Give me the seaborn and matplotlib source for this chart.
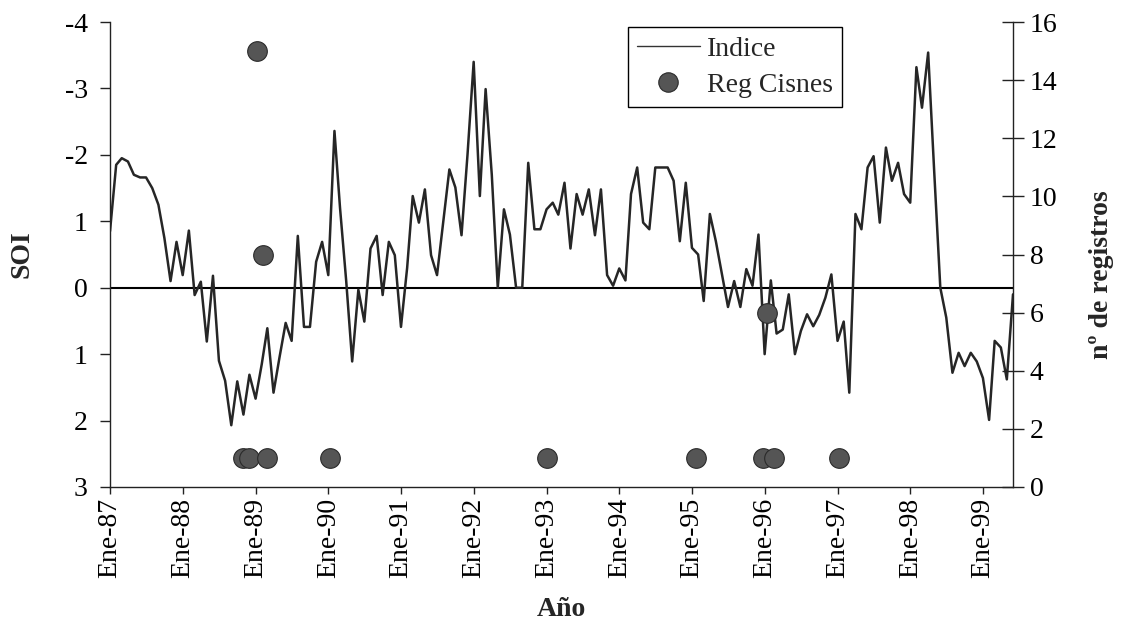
import numpy as np
import pandas as pd
import matplotlib
matplotlib.use("Agg")
import matplotlib.pyplot as plt
from matplotlib.lines import Line2D
import seaborn as sns

# ---------------- data ----------------
fecha_inicio = "1987-01-01"
soi = [
    -0.85, -1.85, -1.95, -1.90, -1.70, -1.66, -1.66, -1.50, -1.25, -0.75, -0.10, -0.69,   # 1987
    -0.19, -0.86, 0.11, -0.09, 0.81, -0.18, 1.10, 1.40, 2.07, 1.41, 1.91, 1.31,           # 1988
    1.67, 1.15, 0.61, 1.58, 1.05, 0.53, 0.80, -0.78, 0.59, 0.59, -0.39, -0.69,             # 1989
    -0.19, -2.36, -1.20, -0.10, 1.11, 0.03, 0.51, -0.59, -0.78, 0.11, -0.69, -0.49,        # 1990
    0.59, -0.30, -1.38, -0.98, -1.48, -0.49, -0.19, -0.99, -1.78, -1.51, -0.79, -2.00,     # 1991
    -3.40, -1.38, -2.99, -1.70, 0.00, -1.18, -0.80, 0.00, 0.00, -1.88, -0.88, -0.88,       # 1992
    -1.18, -1.28, -1.10, -1.58, -0.59, -1.41, -1.10, -1.48, -0.79, -1.48, -0.19, -0.03,    # 1993
    -0.29, -0.11, -1.41, -1.81, -0.98, -0.88, -1.81, -1.81, -1.81, -1.61, -0.70, -1.58,    # 1994
    -0.60, -0.50, 0.20, -1.11, -0.70, -0.20, 0.29, -0.10, 0.29, -0.28, -0.03, -0.80,       # 1995
    1.00, -0.11, 0.69, 0.63, 0.10, 1.00, 0.65, 0.40, 0.58, 0.41, 0.15, -0.20,              # 1996
    0.80, 0.51, 1.58, -1.11, -0.88, -1.81, -1.98, -0.98, -2.11, -1.61, -1.88, -1.41,       # 1997
    -1.28, -3.32, -2.71, -3.54, -1.77, 0.00, 0.45, 1.28, 0.98, 1.18, 0.98, 1.11,           # 1998
    1.36, 1.99, 0.80, 0.90, 1.38, 0.10,                                                    # 1999
]

cisnes_fechas = ["1988-11-01", "1988-12-01", "1989-01-08", "1989-02-08", "1989-03-01",
                 "1990-01-10", "1993-01-01", "1995-01-20", "1995-12-25", "1996-01-12",
                 "1996-02-15", "1997-01-10"]
cisnes_n = [1, 1, 15, 8, 1, 1, 1, 1, 1, 6, 1, 1]

anios = list(range(1987, 2000))
etiquetas_x = [f"Ene-{a % 100:02d}" for a in anios]
soi_ticks = [-4, -3, -2, -1, 0, 1, 2, 3]
soi_ticklabels = ["-4", "-3", "-2", "1", "0", "1", "2", "3"]
reg_ticks = list(range(0, 17, 2))

# ---------------- style ----------------
sns.set_style("ticks")
plt.rcParams["font.family"] = ["Liberation Serif", "DejaVu Serif"]
plt.rcParams["axes.edgecolor"] = "#222222"
plt.rcParams["axes.linewidth"] = 1.0

W, H = 1123, 636
fig = plt.figure(figsize=(W / 100, H / 100), dpi=100)
fig.patch.set_facecolor("white")
L, R, T, B = 110, 1013, 22, 487
ax = fig.add_axes([L / W, 1 - B / H, (R - L) / W, (B - T) / H])

fechas = pd.date_range(fecha_inicio, periods=len(soi), freq="MS")
df = pd.DataFrame({"fecha": fechas, "soi": soi})
sns.lineplot(data=df, x="fecha", y="soi", ax=ax, color="#262626", linewidth=1.8,
             legend=False)
ax.axhline(0, color="black", linewidth=1.5, zorder=1)

ax.set_xlim(fechas[0], fechas[-1])
ax.set_ylim(3, -4)
ax.set_yticks(soi_ticks)
ax.set_yticklabels(soi_ticklabels)
xt = pd.to_datetime([f"{a}-01-01" for a in anios])
ax.set_xticks(xt)
ax.set_xticklabels(etiquetas_x, rotation=90)
ax.tick_params(axis="y", direction="out", length=7, width=1, labelsize=20, pad=9,
               colors="#222222", labelcolor="black")
ax.tick_params(axis="x", direction="out", length=5, width=1, labelsize=20, pad=3,
               colors="#222222", labelcolor="black")
ax.spines["top"].set_visible(False)
ax.spines["right"].set_visible(False)

ax.set_ylabel("SOI", fontsize=20, fontweight="bold", va="center")
ax.yaxis.set_label_coords((22 - L) / (R - L), 0.5)
ax.set_xlabel("Año", fontsize=20, fontweight="bold", va="center")
ax.xaxis.set_label_coords(0.5, (B - 610) / (B - T))

ax2 = ax.twinx()
dfc = pd.DataFrame({"fecha": pd.to_datetime(cisnes_fechas), "n": cisnes_n})
sns.scatterplot(data=dfc, x="fecha", y="n", ax=ax2, s=200, color="#555555",
                edgecolor="#2a2a2a", linewidth=0.8, zorder=3, legend=False)
ax2.set_ylim(0, 16)
ax2.set_yticks(reg_ticks)
ax2.tick_params(axis="y", direction="inout", length=16, width=1, labelsize=20, pad=4,
                colors="#222222", labelcolor="black")
for s in ["top", "left", "bottom"]:
    ax2.spines[s].set_visible(False)
ax2.set_ylabel("nº de registros", fontsize=20, fontweight="bold", rotation=90, va="center")
ax2.yaxis.set_label_coords((1102 - L) / (R - L), (B - 275) / (B - T))
ax2.set_xlim(fechas[0], fechas[-1])

handles = [Line2D([], [], color="#333333", linewidth=1.0),
           Line2D([], [], marker="o", linestyle="", markersize=14,
                  markerfacecolor="#555555", markeredgecolor="#2a2a2a", markeredgewidth=0.8)]
leg = fig.legend(handles, ["Indice", "Reg Cisnes"], loc="upper left",
                 bbox_to_anchor=(628 / W, 1 - 27 / H), bbox_transform=fig.transFigure,
                 frameon=True, fancybox=False, edgecolor="black", framealpha=1,
                 fontsize=20, handlelength=2.25, handletextpad=0.27, borderpad=0.33,
                 labelspacing=0.38, borderaxespad=0)
leg.get_frame().set_linewidth(1.0)

fig.savefig("out.png", dpi=100, facecolor="white")
